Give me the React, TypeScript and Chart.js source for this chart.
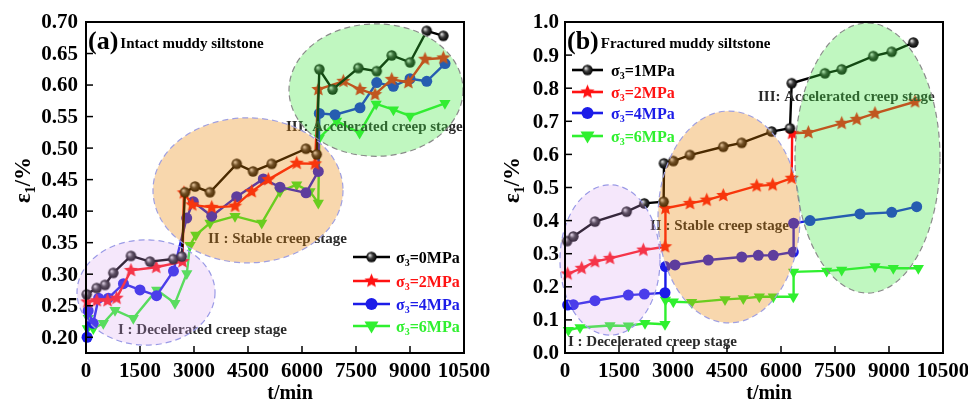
import React, { useEffect, useRef } from "react";
import { Chart, registerables } from "chart.js";
Chart.register(...registerables);

const FONT = '"Liberation Serif", "Times New Roman", serif';

// ---------- axes ----------
const X_TICKS = [0, 1500, 3000, 4500, 6000, 7500, 9000, 10500];
const A_Y_TICKS = [0.2, 0.25, 0.3, 0.35, 0.4, 0.45, 0.5, 0.55, 0.6, 0.65, 0.7];
const B_Y_TICKS = [0, 0.1, 0.2, 0.3, 0.4, 0.5, 0.6, 0.7, 0.8, 0.9, 1.0];

// ---------- legend labels ----------
const A_LABELS = ["σ_3=0MPa", "σ_3=2MPa", "σ_3=4MPa", "σ_3=6MPa"];
const B_LABELS = ["σ_3=1MPa", "σ_3=2MPa", "σ_3=4MPa", "σ_3=6MPa"];

// ---------- (a) Intact muddy siltstone ----------
const A0_X = [20, 297, 528, 758, 1250, 1778, 2425, 2660, 2750, 3028, 3444, 4186, 4639, 5158, 6111, 6408, 6481, 6850, 7565, 8076, 8493, 9001, 9465, 9926];
const A0_Y = [0.268, 0.278, 0.283, 0.302, 0.329, 0.320, 0.324, 0.328, 0.430, 0.439, 0.430, 0.475, 0.463, 0.475, 0.499, 0.490, 0.625, 0.593, 0.627, 0.622, 0.647, 0.636, 0.686, 0.678];

const A2_X = [36, 300, 600, 850, 1250, 1950, 2680, 2720, 2950, 3492, 4139, 4603, 5064, 5853, 6361, 6454, 7148, 7611, 8028, 8493, 8954, 9418, 9926];
const A2_Y = [0.256, 0.258, 0.258, 0.262, 0.306, 0.311, 0.320, 0.429, 0.410, 0.406, 0.408, 0.431, 0.450, 0.476, 0.475, 0.593, 0.606, 0.593, 0.585, 0.609, 0.604, 0.641, 0.643];

const A4_X = [30, 60, 200, 350, 620, 1040, 1500, 1960, 2430, 2797, 2981, 3492, 4186, 4925, 5389, 6111, 6453, 6481, 6917, 7611, 8076, 8537, 9001, 9465, 9973];
const A4_Y = [0.200, 0.242, 0.222, 0.262, 0.262, 0.285, 0.275, 0.266, 0.305, 0.389, 0.415, 0.392, 0.423, 0.451, 0.438, 0.429, 0.463, 0.555, 0.553, 0.564, 0.604, 0.598, 0.610, 0.606, 0.634];

const A6_X = [36, 64, 203, 481, 806, 1314, 1964, 2472, 2800, 2890, 3050, 3444, 4139, 4881, 5389, 5853, 6222, 6453, 6481, 6960, 7600, 8060, 8540, 9000, 9970];
const A6_Y = [0.214, 0.230, 0.214, 0.222, 0.243, 0.230, 0.275, 0.254, 0.301, 0.346, 0.362, 0.381, 0.392, 0.381, 0.431, 0.442, 0.431, 0.413, 0.516, 0.543, 0.524, 0.570, 0.561, 0.551, 0.571];

// ---------- (b) Fractured muddy siltstone ----------
const B1_X = [60, 231, 833, 1713, 2204, 2740, 2750, 3009, 3472, 4397, 4908, 5741, 6250, 6297, 7222, 7686, 8564, 9075, 9676];
const B1_Y = [0.338, 0.352, 0.397, 0.427, 0.452, 0.457, 0.573, 0.580, 0.598, 0.623, 0.635, 0.669, 0.679, 0.815, 0.845, 0.857, 0.897, 0.910, 0.938];

const B2_X = [74, 463, 833, 1250, 2176, 2778, 2790, 3472, 3936, 4397, 5325, 5769, 6297, 6310, 6759, 7686, 8103, 8611, 9723];
const B2_Y = [0.239, 0.256, 0.276, 0.286, 0.311, 0.321, 0.437, 0.452, 0.462, 0.476, 0.505, 0.508, 0.528, 0.664, 0.666, 0.694, 0.706, 0.724, 0.759];

const B4_X = [74, 231, 833, 1759, 2204, 2778, 2790, 3056, 3981, 4908, 5370, 5786, 6342, 6350, 6806, 8194, 9075, 9769];
const B4_Y = [0.145, 0.146, 0.158, 0.175, 0.178, 0.182, 0.261, 0.266, 0.281, 0.290, 0.295, 0.295, 0.305, 0.392, 0.400, 0.420, 0.425, 0.442];

const B6_X = [93, 417, 1250, 1759, 2222, 2778, 2790, 3009, 3518, 4445, 4953, 5398, 5786, 6342, 6350, 7269, 7686, 8611, 9120, 9815];
const B6_Y = [0.069, 0.077, 0.083, 0.082, 0.090, 0.087, 0.160, 0.155, 0.153, 0.162, 0.165, 0.170, 0.170, 0.170, 0.245, 0.248, 0.251, 0.261, 0.256, 0.256];

// ---------- stage annotations (data coords) ----------
const STAGE_TEXTS = ["I : Decelerated creep stage", "II : Stable creep stage", "III: Accelerated creep stage"];
const A_STAGE_POS = [[889, 0.211], [3389, 0.356], [5556, 0.533]];
const B_STAGE_POS = [[83, 0.033], [2361, 0.384], [5361, 0.773]];
// ellipses: cx, cy, rx, ry (data units)
const A_ELLIPSES = [[1667, 0.271, 1917, 0.0835], [4500, 0.433, 2639, 0.115], [8056, 0.592, 2417, 0.105]];
const B_ELLIPSES = [[1250, 0.281, 1389, 0.227], [4556, 0.411, 1972, 0.32], [8403, 0.589, 2014, 0.408]];

const COLORS = ["#000000", "#ff1212", "#1c1ce8", "#2ff02f"];
const MARKERS = ["ball", "star", "dot", "tri"];
const ELL_FILL = ["rgba(215,160,240,0.25)", "rgba(232,130,0,0.32)", "rgba(60,230,60,0.32)"];
const ELL_STROKE = ["#9a9ae6", "#a0a0e0", "#8a8a8a"];

// ---------- marker images ----------
function makeBall(r: number) {
  const s = Math.ceil(r * 2 + 2);
  const cv = document.createElement("canvas");
  cv.width = s; cv.height = s;
  const g = cv.getContext("2d")!;
  const c = s / 2;
  const grad = g.createRadialGradient(c - r * 0.35, c - r * 0.35, r * 0.1, c, c, r);
  grad.addColorStop(0, "#d8d8d8");
  grad.addColorStop(0.45, "#3a3a3a");
  grad.addColorStop(1, "#000");
  g.fillStyle = grad;
  g.beginPath(); g.arc(c, c, r, 0, Math.PI * 2); g.fill();
  return cv;
}
function makeStar(R: number, color: string) {
  const s = Math.ceil(R * 2 + 2);
  const cv = document.createElement("canvas");
  cv.width = s; cv.height = s;
  const g = cv.getContext("2d")!;
  const c = s / 2, r = R * 0.45;
  g.beginPath();
  for (let i = 0; i < 10; i++) {
    const a = -Math.PI / 2 + (i * Math.PI) / 5;
    const rr = i % 2 === 0 ? R : r;
    const px = c + rr * Math.cos(a), py = c + rr * Math.sin(a);
    if (i === 0) g.moveTo(px, py); else g.lineTo(px, py);
  }
  g.closePath();
  g.fillStyle = color; g.fill();
  return cv;
}
function drawMarker(ctx: CanvasRenderingContext2D, kind: string, color: string, x: number, y: number, imgs: any) {
  if (kind === "ball") ctx.drawImage(imgs.ball, x - imgs.ball.width / 2, y - imgs.ball.height / 2);
  else if (kind === "star") ctx.drawImage(imgs.star, x - imgs.star.width / 2, y - imgs.star.height / 2);
  else if (kind === "dot") { ctx.fillStyle = color; ctx.beginPath(); ctx.arc(x, y, 6, 0, Math.PI * 2); ctx.fill(); }
  else {
    ctx.fillStyle = color; ctx.beginPath();
    ctx.moveTo(x - 7, y - 4.5); ctx.lineTo(x + 7, y - 4.5); ctx.lineTo(x, y + 7.5); ctx.closePath(); ctx.fill();
  }
}

// ---------- rich text (with _x subscripts) ----------
function drawRich(ctx: CanvasRenderingContext2D, text: string, x: number, y: number, size: number, align: string) {
  const segs: { t: string; sub: boolean }[] = [];
  for (let i = 0; i < text.length; i++) {
    if (text[i] === "_" && i + 1 < text.length) { segs.push({ t: text[i + 1], sub: true }); i++; }
    else if (segs.length && !segs[segs.length - 1].sub) segs[segs.length - 1].t += text[i];
    else segs.push({ t: text[i], sub: false });
  }
  const subSize = Math.round(size * 0.62);
  const setF = (s: { sub: boolean }) => { ctx.font = `bold ${s.sub ? subSize : size}px ${FONT}`; };
  let total = 0;
  for (const s of segs) { setF(s); total += ctx.measureText(s.t).width; }
  let cx = align === "center" ? x - total / 2 : align === "right" ? x - total : x;
  ctx.textAlign = "left"; ctx.textBaseline = "alphabetic";
  for (const s of segs) {
    setF(s);
    ctx.fillText(s.t, cx, s.sub ? y + size * 0.2 : y);
    cx += ctx.measureText(s.t).width;
  }
}

const panelPlugin = {
  id: "panel",
  afterDatasetsDraw(chart: any, _a: any, o: any) {
    const ctx = chart.ctx as CanvasRenderingContext2D;
    const xs = chart.scales.x, ys = chart.scales.y;
    ctx.save();
    ctx.fillStyle = "#2a2a2a";
    ctx.font = `bold 15px ${FONT}`;
    ctx.textAlign = "left"; ctx.textBaseline = "middle";
    o.stagePos.forEach((p: number[], i: number) => {
      ctx.fillText(STAGE_TEXTS[i], xs.getPixelForValue(p[0]), ys.getPixelForValue(p[1]));
    });
    o.ellipses.forEach((e: number[], i: number) => {
      const cx = xs.getPixelForValue(e[0]), cy = ys.getPixelForValue(e[1]);
      const rx = Math.abs(xs.getPixelForValue(e[0] + e[2]) - cx);
      const ry = Math.abs(ys.getPixelForValue(e[1] + e[3]) - cy);
      ctx.beginPath(); ctx.ellipse(cx, cy, rx, ry, 0, 0, Math.PI * 2);
      ctx.fillStyle = ELL_FILL[i]; ctx.fill();
      ctx.setLineDash([6, 4]); ctx.lineWidth = 1.2; ctx.strokeStyle = ELL_STROKE[i]; ctx.stroke();
      ctx.setLineDash([]);
    });
    ctx.restore();
  },
  afterDraw(chart: any, _a: any, o: any) {
    const ctx = chart.ctx as CanvasRenderingContext2D;
    const xs = chart.scales.x, ys = chart.scales.y;
    const A = chart.chartArea;
    ctx.save();
    // frame
    ctx.strokeStyle = "#000"; ctx.lineWidth = 2;
    ctx.strokeRect(A.left, A.top, A.right - A.left, A.bottom - A.top);
    // ticks + labels
    ctx.lineWidth = 1.5;
    ctx.fillStyle = "#000";
    ctx.font = `bold 21px ${FONT}`;
    ctx.textAlign = "center"; ctx.textBaseline = "middle";
    for (const v of X_TICKS) {
      const px = xs.getPixelForValue(v);
      ctx.beginPath(); ctx.moveTo(px, A.bottom); ctx.lineTo(px, A.bottom - 7); ctx.stroke();
      ctx.fillText(String(v), px, A.bottom + 19);
    }
    ctx.textAlign = "right";
    for (const v of o.yTicks) {
      const py = ys.getPixelForValue(v);
      ctx.beginPath(); ctx.moveTo(A.left, py); ctx.lineTo(A.left + 7, py); ctx.stroke();
      ctx.fillText(v.toFixed(o.dec), A.left - o.labelGap, py + 1);
    }
    // axis titles
    ctx.fillStyle = "#000";
    drawRich(ctx, "t/min", (A.left + A.right) / 2 + 15, 399, 20, "center");
    ctx.save();
    ctx.translate(o.yTitleX, 180);
    ctx.rotate(-Math.PI / 2);
    drawRich(ctx, "ε_1/%", 0, 8, 23, "center");
    ctx.restore();
    // panel title
    ctx.font = `bold 26px ${FONT}`;
    ctx.textAlign = "left"; ctx.textBaseline = "middle";
    ctx.fillText(o.tag, A.left + 2, 42);
    const tw = ctx.measureText(o.tag).width;
    ctx.font = `bold 15px ${FONT}`;
    ctx.fillText(o.title, A.left + 4 + tw, 44);
    // legend
    const L = o.legend;
    o.labels.forEach((lab: string, i: number) => {
      const y = L.rows[i];
      ctx.strokeStyle = COLORS[i]; ctx.lineWidth = 2.6;
      ctx.beginPath(); ctx.moveTo(L.x1, y); ctx.lineTo(L.x2, y); ctx.stroke();
      drawMarker(ctx, MARKERS[i], COLORS[i], (L.x1 + L.x2) / 2, y, o.imgs);
      ctx.fillStyle = COLORS[i];
      drawRich(ctx, lab, L.tx, y + 5.5, 16, "left");
    });
    ctx.restore();
  },
};

function buildConfig(p: any) {
  const imgs = { ball: makeBall(5.2), star: makeStar(7.5, COLORS[1]) };
  const datasets = p.series.map((s: number[][], i: number) => {
    const kind = MARKERS[i];
    return {
      label: p.labels[i],
      data: s[0].map((x, j) => ({ x, y: s[1][j] })),
      borderColor: COLORS[i],
      backgroundColor: COLORS[i],
      borderWidth: 2.4,
      tension: 0,
      clip: false,
      pointStyle: kind === "ball" ? imgs.ball : kind === "star" ? imgs.star : kind === "dot" ? "circle" : "triangle",
      pointRotation: kind === "tri" ? 180 : 0,
      pointRadius: kind === "dot" ? 5.5 : kind === "tri" ? 6.5 : 5,
      pointBorderWidth: 0,
      pointBackgroundColor: COLORS[i],
    };
  });
  return {
    type: "line",
    data: { datasets },
    options: {
      animation: false,
      responsive: false,
      events: [],
      layout: { padding: p.padding },
      scales: {
        x: { type: "linear", min: 0, max: 10500, display: false },
        y: { type: "linear", min: p.yMin, max: p.yMax, display: false },
      },
      plugins: {
        legend: { display: false },
        tooltip: { enabled: false },
        panel: {
          yTicks: p.yTicks, dec: p.dec, labelGap: p.labelGap, yTitleX: p.yTitleX,
          tag: p.tag, title: p.title, labels: p.labels, legend: p.legend, imgs,
          stagePos: p.stagePos, ellipses: p.ellipses,
        },
      },
    },
    plugins: [panelPlugin],
  };
}

const PANEL_A = {
  series: [[A0_X, A0_Y], [A2_X, A2_Y], [A4_X, A4_Y], [A6_X, A6_Y]],
  labels: A_LABELS, yTicks: A_Y_TICKS, yMin: 0.175, yMax: 0.7, dec: 2, labelGap: 8, yTitleX: 22,
  tag: "(a)", title: "Intact muddy siltstone",
  padding: { left: 86, top: 22, right: 36, bottom: 49 },
  legend: { x1: 353, x2: 390, tx: 396, rows: [257, 281, 304, 326] },
  stagePos: A_STAGE_POS, ellipses: A_ELLIPSES,
};
const PANEL_B = {
  series: [[B1_X, B1_Y], [B2_X, B2_Y], [B4_X, B4_Y], [B6_X, B6_Y]],
  labels: B_LABELS, yTicks: B_Y_TICKS, yMin: 0, yMax: 1.0, dec: 1, labelGap: 6, yTitleX: 31,
  tag: "(b)", title: "Fractured muddy siltstone",
  padding: { left: 85, top: 22, right: 25, bottom: 49 },
  legend: { x1: 92, x2: 123, tx: 131, rows: [70, 92, 113, 136] },
  stagePos: B_STAGE_POS, ellipses: B_ELLIPSES,
};

function Panel({ cfg, width, left }: { cfg: any; width: number; left: number }) {
  const ref = useRef<HTMLCanvasElement>(null);
  useEffect(() => {
    const chart = new Chart(ref.current as HTMLCanvasElement, buildConfig(cfg) as any);
    return () => chart.destroy();
  }, [cfg]);
  return (
    <canvas ref={ref} width={width} height={402}
      style={{ position: "absolute", left, top: 0, width, height: 402 }} />
  );
}

export default function App() {
  return (
    <div style={{ position: "fixed", left: 0, top: 0, width: 968, height: 402, background: "#fff", overflow: "hidden" }}>
      <Panel cfg={PANEL_A} width={500} left={0} />
      <Panel cfg={PANEL_B} width={488} left={480} />
    </div>
  );
}
